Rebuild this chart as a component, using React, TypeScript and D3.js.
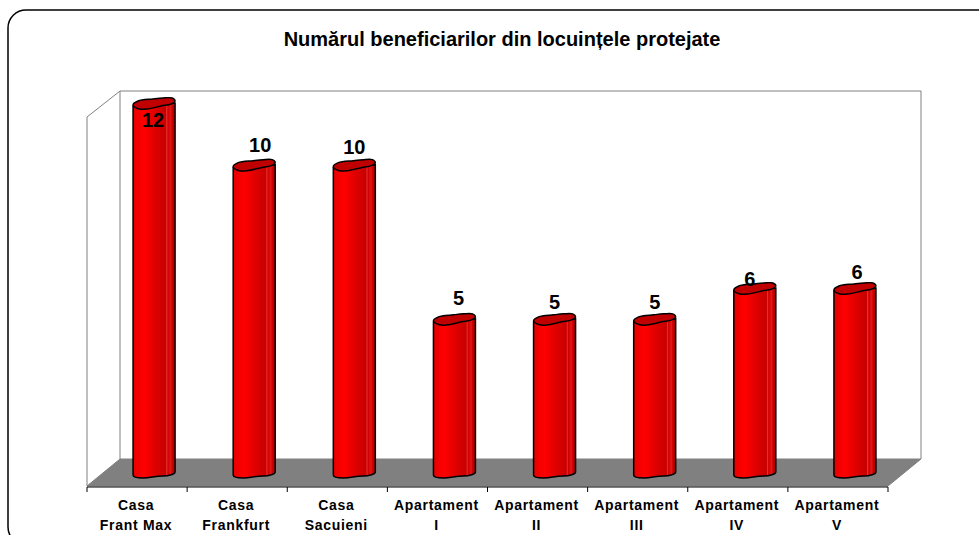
import React, { useRef, useEffect } from 'react';
import * as d3 from 'd3';

const titleText = 'Numărul beneficiarilor din locuințele protejate';
const categories = ['Casa|Frant Max', 'Casa|Frankfurt', 'Casa|Sacuieni', 'Apartament|I', 'Apartament|II', 'Apartament|III', 'Apartament|IV', 'Apartament|V'];
const values = [12, 10, 10, 5, 5, 5, 6, 6];
// hand placed labels in the original, offset from the top centre of each bar
const labelDx = [-1, 6, 0, 4, 0, 0, -5, 2];
const labelDy = [14, -23, -21, -24, -20, -20, -12, -19];

const width = 979;
const height = 535;
const floorLeft = 87;
const floorRight = 888;
const depthX = 33;
const baseY = 487;
const backBaseY = 459;
const wallTop = 91;
const barW = 42;
// outline of the lid of a cylinder, relative to the top left of the bar
const capShape: [number, number][] = [[0, -1], [5, -5], [20, -7], [30, -8], [39, -8], [42, -5], [38, -2], [28, 0], [14, 3], [6, 3]];

export default function App() {
  const svgRef = useRef<SVGSVGElement>(null);

  useEffect(() => {
    const svg = d3.select(svgRef.current);
    svg.selectAll('*').remove();

    const x = d3.scaleBand<string>().domain(categories).range([floorLeft, floorRight]);
    const y = d3.scaleLinear().domain([0, 12]).range([476, 106]);

    const defs = svg.append('defs');
    const grad = defs.append('linearGradient').attr('id', 'cyl');
    [[0, '#e60000'], [0.26, '#ff0000'], [0.55, '#dc0000'], [0.78, '#c80000'], [0.8, '#e83030'], [0.83, '#d00000'], [0.9, '#e01818'], [0.93, '#cc0000'], [1, '#a80000']]
      .forEach(([o, c]) => grad.append('stop').attr('offset', o as number).attr('stop-color', c as string));

    const capLine = d3.line().curve(d3.curveCatmullRomClosed.alpha(0.5));

    // outer rounded frame, runs off the page on the right and bottom
    svg.append('rect')
      .attr('x', 8).attr('y', 10)
      .attr('width', 1020).attr('height', 535)
      .attr('rx', 18)
      .attr('fill', 'white')
      .attr('stroke', 'black')
      .attr('stroke-width', 1.5);

    // title
    svg.append('text')
      .attr('x', 502).attr('y', 46)
      .attr('text-anchor', 'middle')
      .attr('font-family', 'Liberation Sans, Arial, sans-serif')
      .attr('font-weight', 'bold')
      .attr('font-size', 20)
      .attr('fill', 'black')
      .text(titleText);

    // walls
    const wall = '#808080';
    svg.append('path')
      .attr('d', `M${floorLeft},${baseY - 1}V${wallTop + 26}L${floorLeft + depthX},${wallTop}H${floorRight + depthX}V${backBaseY}`)
      .attr('fill', 'none').attr('stroke', wall).attr('stroke-width', 1);
    svg.append('line')
      .attr('x1', floorLeft + depthX).attr('x2', floorLeft + depthX)
      .attr('y1', wallTop).attr('y2', backBaseY)
      .attr('stroke', wall);

    // floor
    svg.append('path')
      .attr('d', `M${floorLeft},${baseY - 1}L${floorLeft + depthX},${backBaseY}H${floorRight + depthX}L${floorRight},${baseY - 1}Z`)
      .attr('fill', '#808080').attr('stroke', '#808080');

    // axis line and ticks at band edges
    const edges = [...categories.map(c => x(c) as number), floorRight];
    svg.append('line')
      .attr('x1', floorLeft).attr('x2', floorRight)
      .attr('y1', baseY).attr('y2', baseY)
      .attr('stroke', 'black');
    svg.append('g').selectAll('line').data(edges).join('line')
      .attr('x1', d => d).attr('x2', d => d)
      .attr('y1', baseY).attr('y2', baseY + 5)
      .attr('stroke', 'black');

    // category labels on two rows
    const labels = svg.append('g')
      .attr('font-family', 'Liberation Sans, Arial, sans-serif')
      .attr('font-weight', 'bold')
      .attr('font-size', 14)
      .attr('letter-spacing', 0.7)
      .attr('text-anchor', 'middle')
      .attr('fill', 'black');
    categories.forEach(c => {
      const cx = (x(c) as number) + x.bandwidth() / 2 - 1;
      c.split('|').forEach((row, i) => {
        labels.append('text')
          .attr('x', cx)
          .attr('y', 510 + i * 20)
          .text(row);
      });
    });

    // bars
    const bars = svg.append('g');
    values.forEach((v, i) => {
      const left = (x(categories[i]) as number) + x.bandwidth() / 2 + 17 - barW / 2;
      const right = left + barW;
      const top = y(v);
      const bottom = y(0);

      // body with a slightly wavy foot
      bars.append('path')
        .attr('d', `M${left},${top}V${bottom - 1}C${left},${bottom + 1} ${left + 3},${bottom + 2} ${left + 10},${bottom + 2}`
          + `C${left + 18},${bottom + 2} ${left + 21},${bottom} ${left + 30},${bottom}`
          + `C${left + 36},${bottom} ${right},${bottom - 2} ${right},${bottom - 4}V${top - 3}Z`)
        .attr('fill', 'url(#cyl)')
        .attr('stroke', 'black')
        .attr('stroke-width', 1.5);

      // top cap
      bars.append('path')
        .attr('d', capLine(capShape.map(([dx, dy]) => [left + dx, top + dy] as [number, number])))
        .attr('fill', '#c00000')
        .attr('stroke', 'black')
        .attr('stroke-width', 1.5);

      // value label
      bars.append('text')
        .attr('x', left + barW / 2 + labelDx[i])
        .attr('y', top + labelDy[i])
        .attr('dy', '0.35em')
        .attr('text-anchor', 'middle')
        .attr('font-family', 'Liberation Sans, Arial, sans-serif')
        .attr('font-weight', 'bold')
        .attr('font-size', 20)
        .attr('fill', 'black')
        .text(v);
    });
  }, []);

  return <svg ref={svgRef} width={width} height={height} style={{ position: 'absolute', left: 0, top: 0 }} />;
}
